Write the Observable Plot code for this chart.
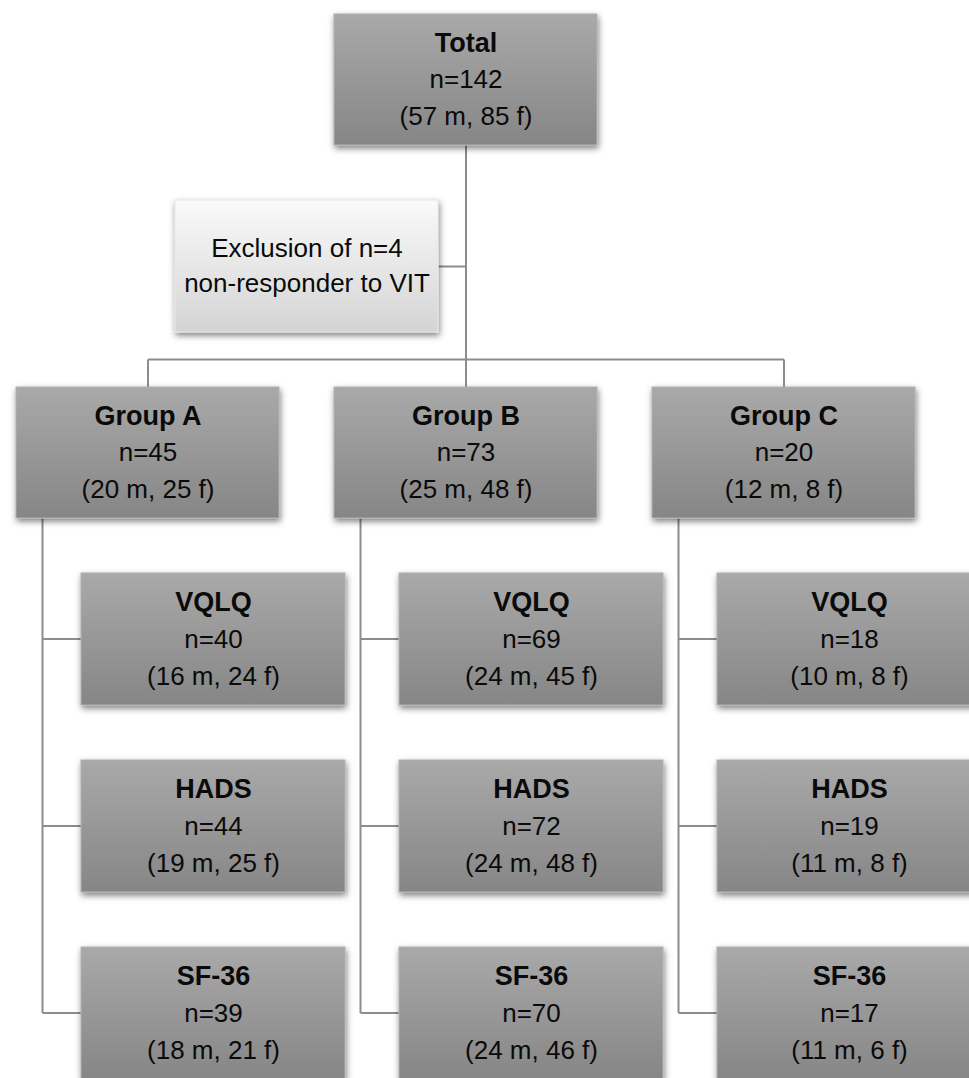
<!DOCTYPE html>
<html><head><meta charset="utf-8">
<script src="https://cdn.jsdelivr.net/npm/d3@7"></script>
<script src="https://cdn.jsdelivr.net/npm/@observablehq/plot@0.6"></script>
<style>html,body{margin:0;padding:0;background:#fff} #chart svg{display:block}</style>
</head><body><div id="chart"></div>
<script>
// ---- data ----
const totalLabel = "Total";
const totalN = 142, totalM = 57, totalF = 85;
const exclusionN = 4;
const exclusionLines = ["Exclusion of n=" + exclusionN, "non-responder to VIT"];
const groups = ["Group A", "Group B", "Group C"];
const groupN = [45, 73, 20];
const groupM = [20, 25, 12];
const groupF = [25, 48, 8];
const measures = ["VQLQ", "HADS", "SF-36"];
const measureN = [[40, 44, 39], [69, 72, 70], [18, 19, 17]];
const measureM = [[16, 19, 18], [24, 24, 24], [10, 11, 11]];
const measureF = [[24, 25, 21], [45, 48, 46], [8, 8, 6]];

// ---- layout ----
const W = 969, H = 1078;
const boxW = 263, boxH = 131;
const colX = i => 16 + i * 318;
const subDX = 65, spineDX = 26;
const groupTop = 387, busY = 359;
const subTop = r => 573 + r * 187;
const lineGap = 37;
const fmt = (n, m, f) => ({n: "n=" + n, mf: "(" + m + " m, " + f + " f)"});

const dark = [];
dark.push({x1: colX(1), x2: colX(1) + boxW, y1: 14, y2: 14 + boxH, title: totalLabel, ...fmt(totalN, totalM, totalF)});
groups.forEach((g, i) => {
  dark.push({x1: colX(i), x2: colX(i) + boxW, y1: groupTop, y2: groupTop + boxH, title: g, ...fmt(groupN[i], groupM[i], groupF[i])});
  measures.forEach((m, r) => {
    dark.push({x1: colX(i) + subDX, x2: colX(i) + subDX + boxW + 1, y1: subTop(r), y2: subTop(r) + boxH + 1, title: m, ...fmt(measureN[i][r], measureM[i][r], measureF[i][r])});
  });
});
dark.forEach(d => d.cy = (d.y1 + d.y2) / 2);
const excl = {x1: 175, x2: 438, y1: 200, y2: 332};
excl.cy = (excl.y1 + excl.y2) / 2;
const exclText = exclusionLines.map((t, k) => ({text: t, x: (excl.x1 + excl.x2) / 2, y: excl.cy + (k - 0.5) * 35}));

// connectors
const cx = i => colX(i) + boxW / 2;
const links = [];
const tot = dark[0];
links.push({x1: cx(1), y1: tot.y2, x2: cx(1), y2: busY});
links.push({x1: excl.x2, y1: excl.cy, x2: cx(1), y2: excl.cy});
links.push({x1: cx(0), y1: busY, x2: cx(2), y2: busY});
groups.forEach((g, i) => {
  links.push({x1: cx(i), y1: busY, x2: cx(i), y2: groupTop});
  const sx = colX(i) + spineDX;
  const lastY = (subTop(measures.length - 1) * 2 + boxH) / 2;
  links.push({x1: sx, y1: groupTop + boxH, x2: sx, y2: lastY});
  measures.forEach((m, r) => {
    const y = subTop(r) + boxH / 2;
    links.push({x1: sx, y1: y, x2: colX(i) + subDX, y2: y});
  });
});

const font = "Liberation Sans, Arial, Helvetica, sans-serif";
const fs = 26, fsTitle = 27;
const ink = "#0a0a0a";
const svg = Plot.plot({
  width: W, height: H,
  margin: 0,
  x: {domain: [0, W], range: [0, W], axis: null},
  y: {domain: [0, H], range: [0, H], axis: null},
  style: {fontFamily: font, background: "#fff"},
  marks: [
    Plot.link(links, {x1: "x1", y1: "y1", x2: "x2", y2: "y2", stroke: "#8c8c8c", strokeWidth: 2}),
    Plot.rect([excl], {x1: "x1", x2: "x2", y1: "y1", y2: "y2", fill: "url(#gLight)", stroke: "#e6e6e6", strokeWidth: 1}),
    Plot.rect(dark, {x1: "x1", x2: "x2", y1: "y1", y2: "y2", fill: "url(#gDark)", stroke: "#b0b0b0", strokeWidth: 1}),
    Plot.text(dark, {x: d => (d.x1 + d.x2) / 2, y: d => d.cy - lineGap, text: "title", fontWeight: "bold", fontSize: fsTitle, fill: ink, fontFamily: font}),
    Plot.text(dark, {x: d => (d.x1 + d.x2) / 2, y: d => d.cy, text: "n", fontSize: fs, fill: ink, fontFamily: font}),
    Plot.text(dark, {x: d => (d.x1 + d.x2) / 2, y: d => d.cy + lineGap, text: "mf", fontSize: fs, fill: ink, fontFamily: font}),
    Plot.text(exclText, {x: "x", y: "y", text: "text", fontSize: fs, fill: ink, fontFamily: font})
  ]
});

const s = d3.select(svg);
const defs = s.insert("defs", ":first-child");
const gd = defs.append("linearGradient").attr("id", "gDark").attr("x1", 0).attr("y1", 0).attr("x2", 0).attr("y2", 1);
gd.append("stop").attr("offset", "0%").attr("stop-color", "#a9a9a9");
gd.append("stop").attr("offset", "100%").attr("stop-color", "#868686");
const gl = defs.append("linearGradient").attr("id", "gLight").attr("x1", 0).attr("y1", 0).attr("x2", 0).attr("y2", 1);
gl.append("stop").attr("offset", "0%").attr("stop-color", "#fafafa");
gl.append("stop").attr("offset", "100%").attr("stop-color", "#d4d4d4");
const f = defs.append("filter").attr("id", "shadow").attr("x", "-10%").attr("y", "-10%").attr("width", "125%").attr("height", "135%");
f.append("feDropShadow").attr("dx", 1).attr("dy", 3).attr("stdDeviation", 3).attr("flood-color", "#000").attr("flood-opacity", 0.5);
s.selectAll('g[aria-label="rect"] rect').attr("filter", "url(#shadow)");

document.getElementById("chart").appendChild(svg);
</script>
</body></html>
